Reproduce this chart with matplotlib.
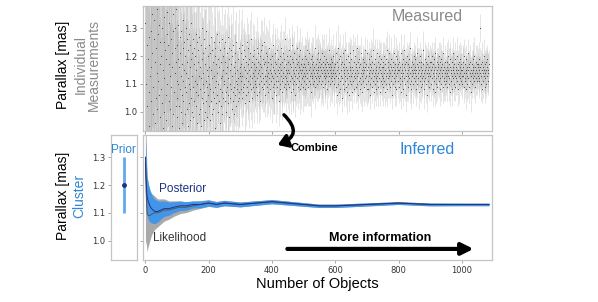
import numpy as np
import matplotlib.pyplot as plt
from matplotlib.patches import FancyArrowPatch

plt.rcParams['font.family'] = ['Liberation Sans', 'DejaVu Sans']

# measured parallaxes: value = 0.80 + code / 100 (mas), one code per object
meas_codes = """
52 12 61 30 08 44 71 22 39 05 58 27 47 15 66 33 02 49 24 63 36 10 55 41 19 68 29 46 07 53 38 16 60 25 43 11 57 34 21 64 31 48 13 51 26 70 37 18 45 28
40 09 59 23 50 35 14 62 32 45 20 54 06 42 67 26 39 17 56 30 48 03 44 61 24 37 52 12 33 58 21 46 29 65 15 41 36 55 19 49 27 60 11 43 34 50 22 38 57 31
25 44 18 39 30 51 22 36 14 47 28 41 33 20 49 26 37 16 43 31 53 24 35 12 45 29 40 19 34 50 27 38 21 46 32 15 42 30 48 23 36 17 44 28 39 25 52 20 33 41
29 46 18 37 24 43 31 13 40 27 48 22 35 30 45 16 38 26 42 33 19 47 28 36 21 44 32 15 39 25 50 30 23 41 34 17 46 27 37 20 43 31 24 49 29 35 18 40 33 26
36 22 44 30 17 41 28 47 24 35 32 19 42 27 38 21 45 33 25 40 29 14 43 31 37 23 48 26 34 20 39 30 45 24 36 28 16 42 32 38 22 46 27 33 19 40 35 25 43 30
31 45 24 38 27 34 20 41 29 36 23 47 32 26 39 18 43 30 35 25 42 28 37 21 40 33 27 44 24 36 29 19 41 34 26 38 31 22 45 28 35 30 24 39 32 27 43 25 36 33
34 28 41 31 37 25 44 33 29 39 27 36 42 30 35 23 40 32 38 26 45 34 29 37 31 43 27 35 39 24 33 41 30 36 28 46 32 38 25 34 40 29 37 33 27 42 31 35 30 39
36 29 43 32 26 38 34 41 30 35 27 40 33 37 24 42 31 36 29 44 34 28 39 32 37 30 45 33 26 38 35 31 41 29 36 33 40 27 34 38 30 43 32 35 28 39 34 31 37 25
33 40 29 36 32 44 30 35 27 38 34 41 31 26 37 33 42 29 35 39 31 24 36 34 40 30 37 28 43 33 35 31 38 27 34 41 32 36 29 39 33 46 30 35 28 37 32 40 34 31
38 30 35 42 29 34 37 31 40 33 27 36 39 32 44 30 35 28 38 34 31 41 33 36 26 39 35 30 37 43 32 34 29 38 36 31 40 33 28 35 42 34 30 37 32 39 35 29 36 33
34 37 31 40 33 28 36 35 39 30 42 34 32 37 29 38 35 31 41 33 36 30 34 39 27 37 33 40 32 35 30 38 34 36 31 43 33 29 37 35 32 39 34 30 36 41 33 35 31 38
32 36 39 33 30 35 37 34 41 31 36 29 38 35 33 40 32 37 34 30 39 36 33 35 28 38 34 37 31 36 42 33 35 30 37 34 39 32 36 33 31 38 35 34 40 32 36 30 37 34
37 29 41 33 26 38 35 30 43 32 36 27 39 34 31 40 28 35 37 33 25 38 32 36 41 30 34 28 37 35 31 42 33 29 36 39 32 27 35 40 34 30 38 33 26 36 41 31 35 33
30 39 34 27 36 42 31 35 33 38 28 34 40 32 36 29 37 33 43 30 35 26 38 34 31 39 36 32 28 37 34 41 30 35 33 27 39 36 31 34 38 29 35 42 32 36 30 37 33 28
35 41 31 36 28 34 39 33 30 37 35 26 40 32 36 34 29 38 31 42 35 33 27 37 34 30 39 32 36 28 35 41 33 31 38 34 29 36 40 32 35 27 37 34 31 39 33 36 30 38
32 36 29 40 34 31 37 27 35 39 33 30 42 34 28 36 38 32 35 30 41 33 37 29 34 36 31 39 26 35 33 38 30 36 41 32 34 29 37 35 31 40 33 28 36 34 39 31 35 37
29 35 38 32 36 30 41 34 27 37 33 35 31 39 34 28 36 42 32 35 30 37 33 26 38 34 31 40 35 33 29 37 36 32 39 30 34 43 31 36 28 35 38 33 30 37 34 32 40 35
36 31 34 39 28 35 33 37 30 41 34 32 36 27 38 35 31 40 33 36 29 34 38 32 35 30 42 33 37 31 34 28 39 35 32 36 30 38 34 26 37 33 35 40 31 36 29 34 38 33
33 38 30 35 40 32 36 28 34 37 31 39 35 33 27 36 41 32 34 30 38 35 29 37 33 36 31 40 34 28 35 38 32 36 30 39 33 34 37 29 35 41 32 36 31 34 38 30 35 33
31 36 34 29 38 33 40 35 30 37 32 36 27 39 34 31 35 38 33 28 36 41 32 35 30 37 34 33 39 29 36 32 35 40 31 34 37 28 35 33 38 30 36 34 32 39 35 31 37 33
35 30 38 33 36 29 34 40 32 37 31 35 28 39 34 36 30 33 41 35 32 37 29 36 34 31 38 33 35 27 37 34 30 39 36 32 35 33 40 31 36 29 34 38 32 35 37 31 34 36
33 37 31 35 39 32 36 34 50 30 37 33 35 28 38 34 31 36 40 33 35 29 37 34 32 38 35 30 36 33 39 34 31 35 37
"""

# measurement uncertainties in units of 0.01 mas
err_codes = """
65 48 72 55 60 44 58 70 50 62 46 57 66 42 53 61 49 68 45 56 52 63 40 59 47 54 64 43 51 58 45 60 38 55 49 62 41 53 57 44 50 39 56 47 52 42 58 36 48 54
45 38 52 41 47 35 50 43 39 46 33 49 42 37 44 31 48 40 36 45 34 41 29 46 38 43 32 40 35 44 30 39 42 33 37 28 41 36 31 38 34 40 27 35 32 37 29 36 33 30
28 22 31 25 19 27 24 30 21 26 18 29 23 25 20 27 22 16 28 24 19 26 21 25 17 23 27 20 24 18 26 22 19 25 21 15 23 20 24 17 22 19 26 18 21 23 16 20 22 19
21 17 24 19 15 22 18 20 16 23 19 14 21 17 20 18 22 15 19 17 21 16 18 20 14 19 17 21 15 18 16 20 17 13 19 16 18 15 20 17 14 18 16 19 15 17 13 18 16 15
17 14 19 15 13 18 16 14 17 12 15 18 14 16 13 17 15 12 16 14 18 13 15 17 12 14 16 13 15 11 17 14 12 16 13 15 14 11 16 13 12 15 14 12 16 11 13 15 12 14
14 12 15 11 13 16 12 14 11 13 15 12 10 14 12 13 11 15 12 10 13 12 14 11 12 13 10 14 11 12 13 10 12 14 11 10 13 12 11 13 10 12 11 13 10 12 14 11 10 12
11 10 12 9 11 10 13 9 10 11 9 12 10 8 11 10 9 12 10 11 9 10 8 11 12 9 10 11 9 10 8 12 10 9 11 10 9 8 11 10 12 9 10 8 11 9 10 11 8 10
10 9 11 8 10 9 12 8 9 10 11 8 9 10 7 11 9 10 8 9 11 8 10 9 7 10 9 11 8 10 9 8 10 11 7 9 10 8 9 11 8 10 9 7 10 8 9 10 8 9
9 8 10 7 9 8 11 9 8 10 7 9 8 10 9 7 8 10 9 8 7 9 10 8 9 7 8 10 8 9 7 9 8 10 7 8 9 8 7 10 9 8 7 9 8 10 7 8 9 8
8 9 7 8 10 7 9 8 7 9 8 6 9 8 7 10 8 7 9 8 7 8 9 7 8 6 9 8 7 8 9 7 8 7 9 8 6 8 9 7 8 7 9 8 6 8 7 9 8 7
8 7 9 7 8 6 8 9 7 8 7 6 9 8 7 8 7 9 6 8 7 8 7 6 9 7 8 7 8 6 7 9 8 7 6 8 7 8 9 6 7 8 7 6 8 7 9 7 6 8
7 8 6 7 8 7 6 9 7 8 6 7 8 7 6 8 7 6 8 7 9 6 7 8 7 6 7 8 6 7 8 7 6 8 7 6 7 8 6 7 8 6 7 7 8 6 7 8 6 7
7 6 8 6 7 5 7 6 8 6 7 5 6 7 6 8 5 7 6 7 5 6 8 6 7 5 7 6 6 8 5 7 6 7 5 6 7 8 6 5 7 6 7 5 6 8 6 7 5 6
6 7 5 6 8 6 5 7 6 7 5 6 7 5 8 6 6 7 5 6 7 5 6 8 6 5 7 6 5 7 6 6 8 5 6 7 5 6 7 6 5 7 6 5 8 6 7 5 6 6
6 5 7 6 5 7 6 8 5 6 7 5 6 6 7 5 6 7 5 8 6 5 6 7 5 6 7 6 5 6 8 5 7 6 5 6 7 5 6 6 7 5 8 6 5 6 7 5 6 7
5 6 7 5 6 6 7 5 6 8 5 6 7 5 6 6 5 7 6 5 7 6 5 6 7 5 6 8 5 6 7 5 5 6 7 6 5 7 6 5 6 7 5 6 6 7 5 6 7 5
6 5 7 6 5 6 7 5 6 6 5 7 6 5 8 6 5 6 7 5 6 5 7 6 5 6 7 5 6 6 5 7 6 5 6 7 5 6 6 5 7 6 5 6 7 5 6 6 5 7
5 6 7 5 6 5 7 6 5 6 6 5 7 6 5 6 7 5 6 5 6 7 5 6 6 5 7 5 6 6 5 7 6 5 6 5 7 6 5 6 6 5 7 5 6 6 5 7 6 5
6 5 6 7 5 6 5 6 7 5 6 6 5 7 5 6 6 5 6 7 5 6 5 6 7 5 6 5 6 6 5 7 5 6 6 5 6 7 5 6 5 6 6 5 7 5 6 6 5 6
5 6 6 5 7 5 6 5 6 6 5 7 5 6 6 5 6 5 7 6 5 6 5 6 6 5 7 5 6 5 6 6 5 7 5 6 5 6 6 5 6 7 5 6 5 6 6 5 7 5
6 5 6 5 7 6 5 6 5 6 6 5 7 5 6 5 6 6 5 6 7 5 6 5 6 5 6 6 5 7 5 6 5 6 6 5 6 5 7 6 5 6 5 6 6 5 7 5 6 5
5 6 6 5 6 5 7 6 5 6 5 6 6 5 7 5 6 5 6 6 5 6 5 7 6 5 6 5 6 6 5 7 5 6 5
"""

# running estimates
n_steps = [1, 3, 6, 10, 15, 20, 30, 40, 50, 60, 75, 90, 110, 130, 150, 175, 200,
           225, 250, 300, 350, 400, 450, 500, 550, 600, 700, 800, 900, 1000, 1085]
post_mean = [1.30, 1.22, 1.16, 1.14, 1.125, 1.115, 1.105, 1.105, 1.11, 1.115, 1.115, 1.12,
             1.125, 1.125, 1.13, 1.13, 1.135, 1.13, 1.135, 1.13, 1.135, 1.14, 1.135,
             1.13, 1.125, 1.125, 1.13, 1.135, 1.13, 1.13, 1.13]
post_sig = [0.09, 0.08, 0.07, 0.065, 0.058, 0.052, 0.044, 0.038, 0.032, 0.028, 0.024,
            0.02, 0.017, 0.015, 0.013, 0.012, 0.011, 0.01, 0.0095, 0.0085, 0.008,
            0.0075, 0.007, 0.0065, 0.006, 0.006, 0.0055, 0.005, 0.005, 0.0045, 0.0045]
like_mean = [1.28, 1.18, 1.10, 1.09, 1.09, 1.095, 1.10, 1.10, 1.105, 1.11, 1.11, 1.115,
             1.12, 1.12, 1.125, 1.13, 1.135, 1.13, 1.135, 1.13, 1.135, 1.14, 1.135,
             1.13, 1.125, 1.125, 1.13, 1.135, 1.13, 1.13, 1.13]
like_sig = [0.30, 0.18, 0.14, 0.11, 0.09, 0.075, 0.06, 0.05, 0.045, 0.04, 0.033,
            0.028, 0.023, 0.019, 0.016, 0.014, 0.012, 0.011, 0.010, 0.009, 0.008,
            0.0075, 0.007, 0.0065, 0.006, 0.006, 0.0055, 0.005, 0.005, 0.0045, 0.0045]

prior_mean = 1.2
prior_sig = 0.1

meas = [0.80 + int(c) / 100 for c in meas_codes.split()]
errs = [int(c) / 100 for c in err_codes.split()]
n = min(len(meas), len(errs))
meas, errs = np.array(meas[:n]), np.array(errs[:n])
idx = np.arange(n)

BLUE = '#2f86d6'
BAND = '#4296ea'
NAVY = '#1f3385'
SPINE = '#c4c4c4'

fig = plt.figure(figsize=(5.98, 3.02), dpi=100)
ax_top = fig.add_axes([0.239, 0.566, 0.584, 0.414])
ax_bot = fig.add_axes([0.239, 0.139, 0.584, 0.414])
ax_pri = fig.add_axes([0.185, 0.139, 0.044, 0.414])

def style(ax):
    for s in ax.spines.values():
        s.set_color(SPINE)
        s.set_linewidth(0.9)
    ax.tick_params(length=2, width=0.6, color='#999999', labelsize=6,
                   labelcolor='#333333', pad=2)
    for lab in ax.get_xticklabels() + ax.get_yticklabels():
        lab.set_family('DejaVu Sans')

ylim = (0.93, 1.38)
xlim = (-7, 1095)
yt = [1.0, 1.1, 1.2, 1.3]

# top panel: individual measurements
ax_top.errorbar(idx, meas, yerr=errs, fmt='none', ecolor='#a0a0a0',
                elinewidth=0.6, alpha=0.32, capsize=0)
ax_top.plot(idx, meas, 'o', ms=0.8, mfc='#444444', mec='none')
ax_top.set_xlim(xlim)
ax_top.set_ylim(ylim)
ax_top.set_yticks(yt)
ax_top.set_xticks([0, 200, 400, 600, 800, 1000])
ax_top.set_xticklabels([])
style(ax_top)
ax_top.text(0.815, 0.92, 'Measured', transform=ax_top.transAxes, ha='center',
            va='center', fontsize=11.5, color='#8a8a8a')

# bottom panel: likelihood and posterior
ax_bot.fill_between(n_steps, np.array(like_mean) - like_sig, np.array(like_mean) + like_sig,
                    color='#a9a9a9', lw=0)
ax_bot.plot(n_steps, like_mean, color='#555555', lw=0.7)
ax_bot.fill_between(n_steps, np.array(post_mean) - post_sig, np.array(post_mean) + post_sig,
                    color=BAND, lw=0)
ax_bot.plot(n_steps, post_mean, color=NAVY, lw=0.7)
ax_bot.set_xlim(xlim)
ax_bot.set_ylim(ylim)
ax_bot.set_yticks(yt)
ax_bot.set_yticklabels([])
ax_bot.set_xticks([0, 200, 400, 600, 800, 1000])
style(ax_bot)
ax_bot.set_xlabel('Number of Objects', fontsize=10.5, labelpad=2)
ax_bot.text(0.815, 0.88, 'Inferred', transform=ax_bot.transAxes, ha='center',
            va='center', fontsize=11.5, color=BLUE)
ax_bot.text(45, 1.175, 'Posterior', fontsize=8.5, color=NAVY)
ax_bot.text(25, 1.0, 'Likelihood', fontsize=8.5, color='#333333')
ax_bot.annotate('', xy=(1045, 0.97), xytext=(440, 0.97),
                arrowprops=dict(arrowstyle='-|>,head_width=0.35,head_length=0.7',
                                color='black', lw=3))
ax_bot.text(740, 1.0, 'More information', ha='center', fontsize=9, fontweight='bold')

# prior panel
ax_pri.errorbar([0], [prior_mean], yerr=[prior_sig], fmt='o', ms=2.5, color=NAVY,
                ecolor='#62a8ee', elinewidth=2, capsize=0)
ax_pri.set_xlim(-1, 1)
ax_pri.set_ylim(ylim)
ax_pri.set_xticks([])
ax_pri.set_yticks(yt)
style(ax_pri)
ax_pri.text(0.5, 0.88, 'Prior', transform=ax_pri.transAxes, ha='center',
            va='center', fontsize=8.5, color=BLUE)

# y labels
fig.text(0.106, 0.785, 'Parallax [mas]', rotation=90, ha='center', va='center', fontsize=10)
fig.text(0.146, 0.785, 'Individual\nMeasurements', rotation=90, ha='center',
         va='center', fontsize=10, color='#8a8a8a', linespacing=1.0)
fig.text(0.106, 0.35, 'Parallax [mas]', rotation=90, ha='center', va='center', fontsize=10)
fig.text(0.133, 0.35, 'Cluster', rotation=90, ha='center', va='center', fontsize=10,
         color=BLUE)

# curved "Combine" arrow across panels
arr = FancyArrowPatch((0.4716, 0.626), (0.4600, 0.517), transform=fig.transFigure,
                      connectionstyle='arc3,rad=-0.85',
                      arrowstyle='-|>,head_width=4,head_length=6', color='black', lw=2.5)
fig.patches.append(arr)
fig.text(0.485, 0.51, 'Combine', fontsize=8, fontweight='bold', va='center')

fig.savefig('out.png', dpi=100)
